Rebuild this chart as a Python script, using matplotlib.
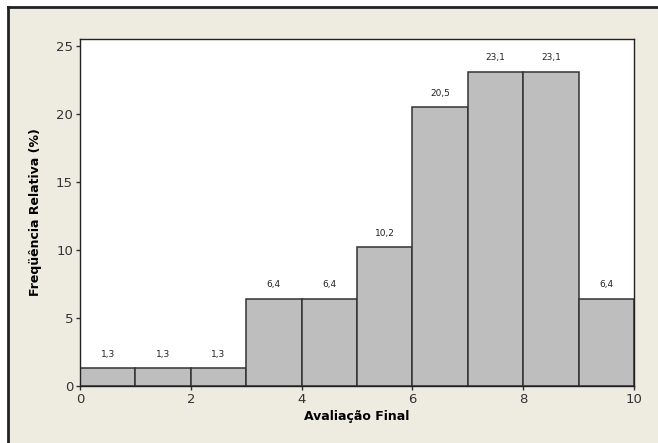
import matplotlib
matplotlib.use("Agg")
from matplotlib import pyplot as plt
from matplotlib.patches import Rectangle
from matplotlib.lines import Line2D
import numpy as np

bin_edges = [0, 1, 2, 3, 4, 5, 6, 7, 8, 9, 10]
rel_freq = [1.3, 1.3, 1.3, 6.4, 6.4, 10.2, 20.5, 23.1, 23.1, 6.4]
bar_labels = ["1,3", "1,3", "1,3", "6,4", "6,4", "10,2", "20,5", "23,1", "23,1", "6,4"]
x_ticks = [0, 2, 4, 6, 8, 10]
y_ticks = [0, 5, 10, 15, 20, 25]

plt.rcParams['font.family'] = ['DejaVu Sans']

fig = plt.figure(figsize=(6.58, 4.43), dpi=100, facecolor="white")

# beige panel with dark border on the left and top
W, H = 658, 443
fig.patches.append(Rectangle((8 / W, 0), 1 - 8 / W, 1 - 8 / H, transform=fig.transFigure,
                             facecolor="#EEEBE1", edgecolor="none", zorder=-10))
fig.lines.append(Line2D([8 / W, 8 / W], [0, 1 - 7 / H], transform=fig.transFigure,
                        color="#222222", lw=2, zorder=-5))
fig.lines.append(Line2D([8 / W, 1], [1 - 7 / H, 1 - 7 / H], transform=fig.transFigure,
                        color="#222222", lw=2, zorder=-5))

ax = fig.add_axes([80 / W, 1 - 386 / H, (634 - 80) / W, (386 - 39) / H])
ax.set_facecolor("white")

lefts = np.array(bin_edges[:-1])
widths = np.diff(bin_edges)
ax.bar(lefts, rel_freq, width=widths, align="edge", color="#BEBEBE",
       edgecolor="#333333", linewidth=1.1)

for x, w, v, lab in zip(lefts, widths, rel_freq, bar_labels):
    ax.text(x + w / 2, v + 0.7, lab, ha="center", va="bottom", fontsize=6.5, color="#222222")

ax.set_xlim(0, 10)
ax.set_ylim(0, 25.5)
ax.set_xticks(x_ticks)
ax.set_yticks(y_ticks)
ax.tick_params(axis="both", direction="out", length=3, width=1, color="#333333",
               labelsize=9.5, labelcolor="#333333", pad=2)
for s in ax.spines.values():
    s.set_color("#222222")
    s.set_linewidth(1)

ax.set_xlabel("Avaliação Final", fontsize=9, fontweight="bold", labelpad=3)
ax.set_ylabel("Freqüência Relativa (%)", fontsize=9, fontweight="bold", labelpad=10)

fig.savefig("out.png", dpi=100, facecolor=fig.get_facecolor())
